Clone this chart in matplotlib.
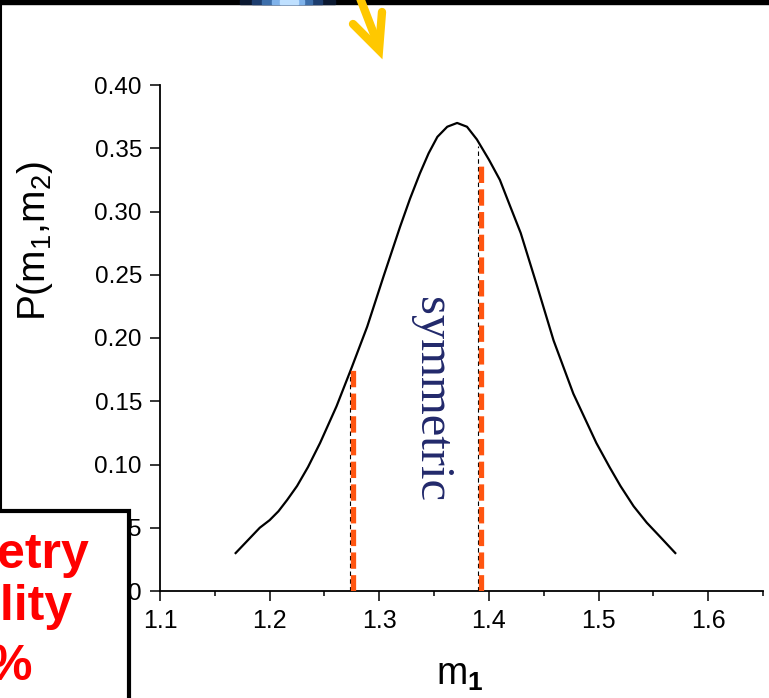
import matplotlib
matplotlib.use("Agg")
import matplotlib.pyplot as plt
from matplotlib.patches import Rectangle
from matplotlib.lines import Line2D

plt.rcParams['font.family'] = ['Liberation Sans', 'DejaVu Sans']
plt.rcParams['mathtext.fontset'] = 'custom'
plt.rcParams['mathtext.rm'] = 'Liberation Sans'
plt.rcParams['mathtext.it'] = 'Liberation Sans:italic'
plt.rcParams['mathtext.bf'] = 'Liberation Sans:bold'

# ---- data ----
m1 = [1.169, 1.180, 1.191, 1.200, 1.208, 1.216, 1.225, 1.235, 1.246, 1.261,
      1.275, 1.289, 1.304, 1.319, 1.328, 1.337, 1.345, 1.353, 1.362, 1.371,
      1.380, 1.389, 1.400, 1.410, 1.419, 1.429, 1.444, 1.459, 1.477, 1.498,
      1.510, 1.520, 1.532, 1.544, 1.556, 1.570]
prob = [0.030, 0.040, 0.050, 0.056, 0.063, 0.072, 0.083, 0.098, 0.117, 0.146,
        0.177, 0.209, 0.249, 0.288, 0.310, 0.330, 0.346, 0.359, 0.367, 0.370,
        0.367, 0.357, 0.341, 0.325, 0.305, 0.283, 0.241, 0.198, 0.156, 0.117,
        0.098, 0.083, 0.067, 0.054, 0.043, 0.030]

# the two dashed markers (x position, height)
mark_x = [1.276, 1.393]
mark_top = [0.175, 0.339]
mark_black_top = [0.175, 0.352]

xticks = [1.1, 1.2, 1.3, 1.4, 1.5, 1.6]
yticks = [0.0, 0.05, 0.10, 0.15, 0.20, 0.25, 0.30, 0.35, 0.40]
ytick_labels = ['0.00', '0.05', '0.10', '0.15', '0.20', '0.25', '0.30', '0.35', '0.40']

W, H = 769, 698
fig = plt.figure(figsize=(W / 100, H / 100), dpi=100)
fig.patch.set_facecolor('white')

ax = fig.add_axes([160 / W, 107 / H, (763 - 160) / W, (591 - 85) / H])
ax.set_xlim(1.1, 1.65)
ax.set_ylim(0, 0.40)

ax.plot(m1, prob, color='black', lw=1.6, solid_joinstyle='round', zorder=3)

for x, top, btop in zip(mark_x, mark_top, mark_black_top):
    ax.plot([x - 0.0025, x - 0.0025], [0, btop], color='black', lw=0.8,
            dashes=(4, 3), zorder=2)
    ax.plot([x, x], [0, top], color='#ff5510', lw=3.8, dashes=(3.1, 1.2),
            solid_capstyle='butt', dash_capstyle='butt', zorder=4)

ax.text(1.347, 0.151, 'symmetric', rotation=-90, ha='center', va='center',
        color='#22296b', fontsize=35, family=['Liberation Serif', 'DejaVu Serif'])

for s in ['top', 'right']:
    ax.spines[s].set_visible(False)
for s in ['left', 'bottom']:
    ax.spines[s].set_linewidth(1.3)

ax.set_xticks(xticks)
ax.set_xticks([1.15, 1.25, 1.35, 1.45, 1.55, 1.65], minor=True)
ax.set_xticklabels([f'{v:.1f}' for v in xticks])
ax.set_yticks(yticks)
ax.set_yticklabels(ytick_labels)
ax.tick_params(axis='both', which='major', direction='out', length=7, width=1.1, pad=6)
ax.tick_params(axis='x', which='major', labelsize=18)
ax.tick_params(axis='y', which='major', labelsize=17.5)
ax.tick_params(axis='x', which='minor', direction='out', length=3.5, width=1.1)

ax.set_xlabel(r'm$_{\mathbf{1}}$', fontsize=27)
ax.xaxis.set_label_coords(0.4975, -0.13)
ax.set_ylabel(r'P(m$_{\mathregular{1}}$,m$_{\mathregular{2}}$)', fontsize=28)
ax.yaxis.set_label_coords(-0.174, 0.691)

# ---- slide decorations around the chart ----
fig.add_artist(Rectangle((0, 1 - 4 / H), 1, 4 / H, transform=fig.transFigure,
                         color='black', zorder=6))
glow = [(240, 95, '#0b1830'), (252, 70, '#1d3d6e'), (262, 50, '#3d6eaa'),
        (272, 32, '#7fb2ea'), (280, 18, '#bfe0ff')]
for gx, gw, gc in glow:
    fig.add_artist(Rectangle((gx / W, 1 - 4 / H), gw / W, 4 / H,
                             transform=fig.transFigure, color=gc, zorder=7))
fig.add_artist(Line2D([1 / W, 1 / W], [1, (698 - 511) / H], transform=fig.transFigure,
                      color='black', lw=1.5, zorder=6))

# yellow arrow
fig.add_artist(Line2D([360 / W, 377 / W], [1 + 2 / H, 1 - 42 / H], transform=fig.transFigure,
                      color='#ffc800', lw=6, solid_capstyle='round', zorder=7))
fig.add_artist(Line2D([353 / W, 379 / W, 382 / W], [1 - 24 / H, 1 - 50 / H, 1 - 12 / H],
                      transform=fig.transFigure, color='#ffc800', lw=6,
                      solid_capstyle='round', solid_joinstyle='miter', zorder=7))

# overlapping text box at lower left
fig.add_artist(Rectangle((-0.02, -0.02), 129 / W + 0.02, (698 - 511) / H + 0.02,
                         transform=fig.transFigure, facecolor='white',
                         edgecolor='black', lw=3, zorder=9))
red_kw = dict(color='#ff0000', fontsize=36, fontweight='bold', ha='right',
              va='baseline', zorder=10)
fig.text(89 / W, (698 - 568) / H, 'etry', **red_kw)
fig.text(73 / W, (698 - 620) / H, 'ility', **red_kw)
fig.text(32 / W, (698 - 680) / H, '%', **red_kw)

fig.savefig('out.png', dpi=100)
